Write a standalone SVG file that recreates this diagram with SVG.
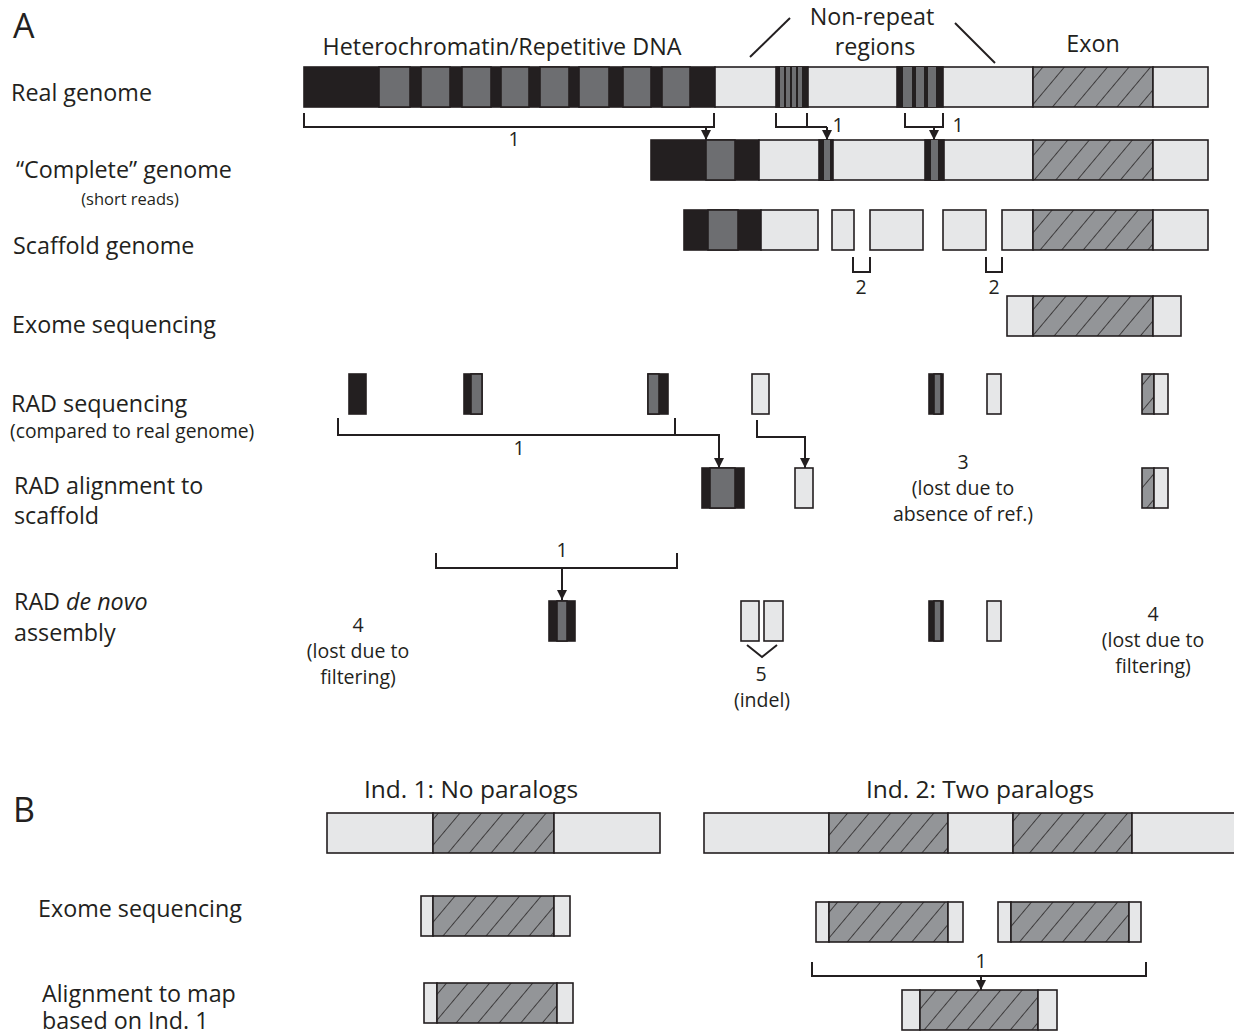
<svg xmlns="http://www.w3.org/2000/svg" width="1234" height="1034" viewBox="0 0 1234 1034">
<style>
text{font-family:"Open Sans","Liberation Sans",sans-serif;fill:#231f20}
.lb{font-size:23.3px}
.sm{font-size:19.5px}
.xs{font-size:16.5px}
.big{font-size:34px}
.hd{font-size:24.5px}
.k{fill:#231f20}
.g{fill:#6d6e71}
.l{fill:#e6e7e8}
.h{fill:url(#hatch)}
.seg rect{stroke:#231f20;stroke-width:1.6}
.c{fill:none;stroke:#231f20;stroke-width:2}
.ca{fill:none;stroke:#231f20;stroke-width:2;marker-end:url(#arr)}
</style>
<defs>
<pattern id="hatch" patternUnits="userSpaceOnUse" width="16.5" height="16.5" patternTransform="rotate(40)">
<rect width="16.5" height="16.5" fill="#939598"/>
<line x1="0" y1="0" x2="0" y2="16.5" stroke="#231f20" stroke-width="1.5"/>
</pattern>
<marker id="arr" markerUnits="userSpaceOnUse" markerWidth="12" markerHeight="12" refX="6" refY="11" orient="0" viewBox="0 0 12 12">
<path d="M1,1 L11,1 L6,11 Z" fill="#231f20"/>
</marker>
</defs>

<g id="labels">
<text class="big" x="13" y="38">A</text>
<text class="lb" x="11" y="101">Real genome</text>
<text class="lb" x="16" y="178">“Complete” genome</text>
<text class="xs" x="130" y="205" text-anchor="middle">(short reads)</text>
<text class="lb" x="13" y="254">Scaffold genome</text>
<text class="lb" x="12" y="333">Exome sequencing</text>
<text class="lb" x="11" y="412">RAD sequencing</text>
<text class="sm" x="10" y="438" style="font-size:19.3px">(compared to real genome)</text>
<text class="lb" x="14" y="494">RAD alignment to</text>
<text class="lb" x="14" y="524">scaffold</text>
<text class="lb" x="14" y="610">RAD <tspan font-style="italic">de novo</tspan></text>
<text class="lb" x="14" y="641">assembly</text>
<text class="lb" x="502" y="55" text-anchor="middle">Heterochromatin/Repetitive DNA</text>
<text class="lb" x="872" y="25" text-anchor="middle">Non-repeat</text>
<text class="lb" x="875" y="55" text-anchor="middle">regions</text>
<text class="lb" x="1093" y="52" text-anchor="middle">Exon</text>
<text class="sm" x="514" y="146" text-anchor="middle">1</text>
<text class="sm" x="838" y="132" text-anchor="middle">1</text>
<text class="sm" x="958" y="132" text-anchor="middle">1</text>
<text class="sm" x="861" y="294" text-anchor="middle">2</text>
<text class="sm" x="994" y="294" text-anchor="middle">2</text>
<text class="sm" x="519" y="455" text-anchor="middle">1</text>
<text class="sm" x="963" y="469" text-anchor="middle">3</text>
<text class="sm" x="963" y="495" text-anchor="middle">(lost due to</text>
<text class="sm" x="963" y="521" text-anchor="middle">absence of ref.)</text>
<text class="sm" x="562" y="557" text-anchor="middle">1</text>
<text class="sm" x="358" y="632" text-anchor="middle">4</text>
<text class="sm" x="358" y="658" text-anchor="middle">(lost due to</text>
<text class="sm" x="358" y="684" text-anchor="middle">filtering)</text>
<text class="sm" x="1153" y="621" text-anchor="middle">4</text>
<text class="sm" x="1153" y="647" text-anchor="middle">(lost due to</text>
<text class="sm" x="1153" y="673" text-anchor="middle">filtering)</text>
<text class="sm" x="761" y="681" text-anchor="middle">5</text>
<text class="sm" x="762" y="707" text-anchor="middle">(indel)</text>
<text class="big" x="13" y="822">B</text>
<text class="hd" x="471" y="798" text-anchor="middle">Ind. 1: No paralogs</text>
<text class="hd" x="980" y="798" text-anchor="middle">Ind. 2: Two paralogs</text>
<text class="lb" x="38" y="917">Exome sequencing</text>
<text class="lb" x="42" y="1002">Alignment to map</text>
<text class="lb" x="42" y="1029">based on Ind. 1</text>
<text class="sm" x="981" y="968" text-anchor="middle">1</text>
</g>

<g id="real-genome" class="seg">
<rect class="k" x="304" y="67" width="411" height="40"/>
<rect class="g" x="379" y="67" width="31" height="40"/>
<rect class="g" x="421" y="67" width="29" height="40"/>
<rect class="g" x="462" y="67" width="29" height="40"/>
<rect class="g" x="501" y="67" width="28" height="40"/>
<rect class="g" x="540" y="67" width="29" height="40"/>
<rect class="g" x="579" y="67" width="30" height="40"/>
<rect class="g" x="623" y="67" width="28" height="40"/>
<rect class="g" x="662" y="67" width="28" height="40"/>
<rect class="l" x="715" y="67" width="318" height="40"/>
<rect class="k" x="776" y="67" width="32" height="40"/>
<rect class="g" x="780" y="67" width="4" height="40" style="stroke:none"/>
<rect class="g" x="786" y="67" width="4" height="40" style="stroke:none"/>
<rect class="g" x="792" y="67" width="4" height="40" style="stroke:none"/>
<rect class="g" x="798" y="67" width="4" height="40" style="stroke:none"/>
<rect class="k" x="897" y="67" width="46" height="40"/>
<rect class="g" x="903" y="67" width="9" height="40" style="stroke:none"/>
<rect class="g" x="916" y="67" width="8" height="40" style="stroke:none"/>
<rect class="g" x="928" y="67" width="8" height="40" style="stroke:none"/>
<rect class="h" x="1033" y="67" width="120" height="40"/>
<rect class="l" x="1153" y="67" width="55" height="40"/>
</g>

<g id="complete-genome" class="seg">
<rect class="k" x="651" y="140" width="108" height="40"/>
<rect class="g" x="706" y="140" width="29" height="40"/>
<rect class="l" x="759" y="140" width="274" height="40"/>
<rect class="k" x="819" y="140" width="14" height="40"/>
<rect class="g" x="824" y="140" width="6" height="40" style="stroke:none"/>
<rect class="k" x="925" y="140" width="19" height="40"/>
<rect class="g" x="931" y="140" width="7" height="40" style="stroke:none"/>
<rect class="h" x="1033" y="140" width="120" height="40"/>
<rect class="l" x="1153" y="140" width="55" height="40"/>
</g>

<g id="scaffold-genome" class="seg">
<rect class="k" x="684" y="210" width="77" height="40"/>
<rect class="g" x="708" y="210" width="30" height="40"/>
<rect class="l" x="761" y="210" width="57" height="40"/>
<rect class="l" x="832" y="210" width="22" height="40"/>
<rect class="l" x="870" y="210" width="53" height="40"/>
<rect class="l" x="943" y="210" width="43" height="40"/>
<rect class="l" x="1002" y="210" width="31" height="40"/>
<rect class="h" x="1033" y="210" width="120" height="40"/>
<rect class="l" x="1153" y="210" width="55" height="40"/>
</g>

<g id="exome-sequencing" class="seg">
<rect class="l" x="1007" y="296" width="26" height="40"/>
<rect class="h" x="1033" y="296" width="120" height="40"/>
<rect class="l" x="1153" y="296" width="28" height="40"/>
</g>

<g id="rad-sequencing" class="seg">
<rect class="k" x="349" y="374" width="17" height="40"/>
<rect class="k" x="464" y="374" width="18" height="40"/>
<rect class="g" x="471" y="374" width="11" height="40"/>
<rect class="k" x="648" y="374" width="20" height="40"/>
<rect class="g" x="648" y="374" width="11" height="40"/>
<rect class="l" x="752" y="374" width="17" height="40"/>
<rect class="k" x="929" y="374" width="14" height="40"/>
<rect class="g" x="934" y="374" width="7" height="40"/>
<rect class="l" x="987" y="374" width="14" height="40"/>
<rect class="h" x="1142" y="374" width="12" height="40"/>
<rect class="l" x="1154" y="374" width="14" height="40"/>
</g>

<g id="rad-alignment" class="seg">
<rect class="k" x="702" y="468" width="42" height="40"/>
<rect class="g" x="710" y="468" width="25" height="40"/>
<rect class="l" x="795" y="468" width="18" height="40"/>
<rect class="h" x="1142" y="468" width="12" height="40"/>
<rect class="l" x="1154" y="468" width="14" height="40"/>
</g>

<g id="rad-de-novo" class="seg">
<rect class="k" x="549" y="601" width="26" height="40"/>
<rect class="g" x="557" y="601" width="10" height="40"/>
<rect class="l" x="741" y="601" width="18" height="40"/>
<rect class="l" x="764" y="601" width="19" height="40"/>
<rect class="k" x="929" y="601" width="14" height="40"/>
<rect class="g" x="934" y="601" width="7" height="40"/>
<rect class="l" x="987" y="601" width="14" height="40"/>
</g>

<g id="ind1-genome" class="seg">
<rect class="l" x="327" y="813" width="106" height="40"/>
<rect class="h" x="433" y="813" width="121" height="40"/>
<rect class="l" x="554" y="813" width="106" height="40"/>
</g>
<g id="ind2-genome" class="seg">
<rect class="l" x="704" y="813" width="125" height="40"/>
<rect class="h" x="829" y="813" width="119" height="40"/>
<rect class="l" x="948" y="813" width="65" height="40"/>
<rect class="h" x="1013" y="813" width="119" height="40"/>
<rect class="l" x="1132" y="813" width="110" height="40"/>
</g>
<g id="ind1-exome" class="seg">
<rect class="l" x="421" y="896" width="12" height="40"/>
<rect class="h" x="433" y="896" width="121" height="40"/>
<rect class="l" x="554" y="896" width="16" height="40"/>
</g>
<g id="ind2-exome" class="seg">
<rect class="l" x="816" y="902" width="13" height="40"/>
<rect class="h" x="829" y="902" width="119" height="40"/>
<rect class="l" x="948" y="902" width="15" height="40"/>
<rect class="l" x="998" y="902" width="13" height="40"/>
<rect class="h" x="1011" y="902" width="118" height="40"/>
<rect class="l" x="1129" y="902" width="12" height="40"/>
</g>
<g id="ind1-alignment" class="seg">
<rect class="l" x="424" y="983" width="13" height="40"/>
<rect class="h" x="437" y="983" width="120" height="40"/>
<rect class="l" x="557" y="983" width="16" height="40"/>
</g>
<g id="ind2-alignment" class="seg">
<rect class="l" x="902" y="990" width="18" height="40"/>
<rect class="h" x="920" y="990" width="118" height="40"/>
<rect class="l" x="1038" y="990" width="19" height="40"/>
</g>

<g id="connectors">
<path class="c" d="M750,57 L790,18"/>
<path class="c" d="M955,23 L995,63"/>
<path class="c" d="M304,113 V127 H714 V113"/>
<path class="ca" d="M706,127 V140"/>
<path class="c" d="M776,113 V127 H827 M807,113 V127"/>
<path class="ca" d="M827,127 V140"/>
<path class="c" d="M905,113 V127 H943 V113"/>
<path class="ca" d="M934,127 V140"/>
<path class="c" d="M853,257 V272 H870 V257"/>
<path class="c" d="M986,257 V272 H1002 V257"/>
<path class="c" d="M338,418 V435 H675 V418"/>
<path class="ca" d="M675,435 H719 V468"/>
<path class="ca" d="M757,420 V437 H805 V468"/>
<path class="c" d="M436,553 V568 H677 V553"/>
<path class="ca" d="M562,568 V600"/>
<path class="c" d="M747,645 L762,657 L777,645"/>
<path class="c" d="M812,962 V976 H1146 V962"/>
<path class="ca" d="M981,976 V990"/>
</g>
</svg>
